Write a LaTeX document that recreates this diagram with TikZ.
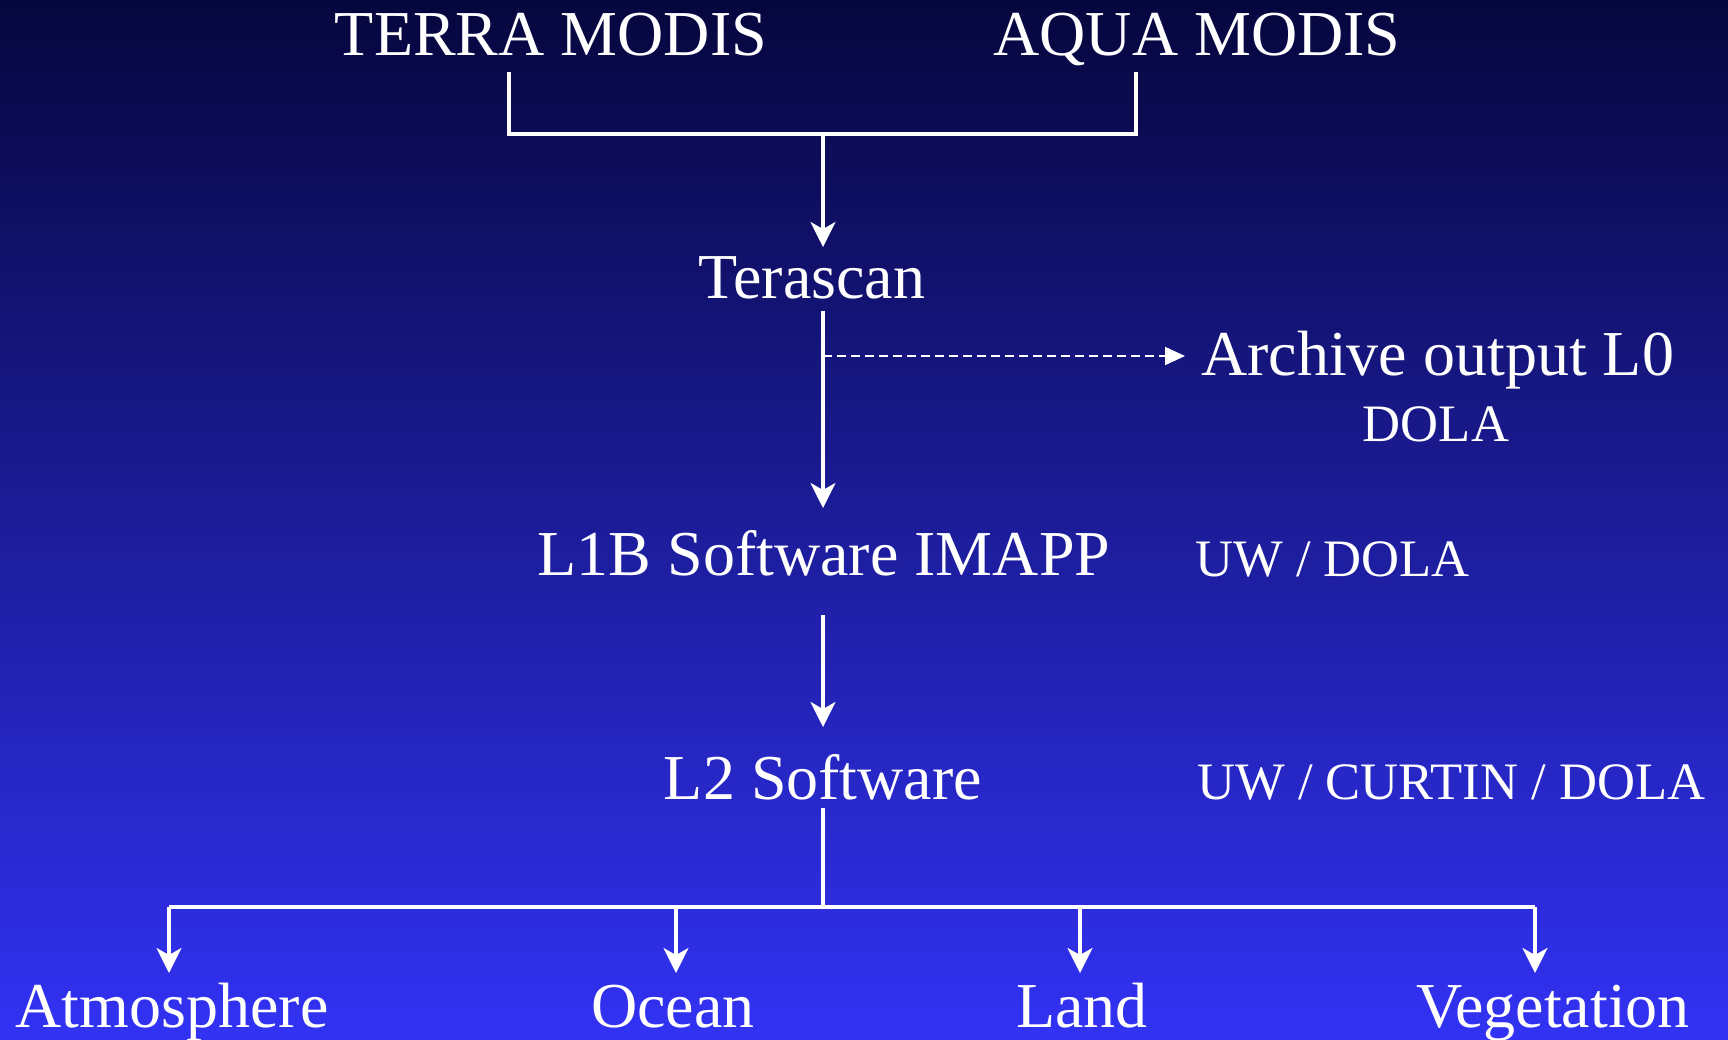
\documentclass[tikz,border=0pt]{standalone}
\usepackage{fontspec}
\setmainfont{Liberation Serif}
\usetikzlibrary{arrows.meta}
\definecolor{topc}{RGB}{6,6,62}
\definecolor{botc}{RGB}{50,50,244}
\tikzset{
  lbl/.style={text=white, inner sep=0pt, anchor=base, font=\fontsize{64}{64}\selectfont},
  sm/.style={lbl, font=\fontsize{52.6}{52.6}\selectfont},
  ln/.style={draw=white, line width=3.3pt},
  arr/.style={ln, -{Stealth[length=25pt,width=25pt,inset=7pt]}},
  darr/.style={draw=white, line width=2pt, dash pattern=on 9pt off 5pt, -{Triangle[length=20pt,width=18pt]}}
}
\begin{document}
\begin{tikzpicture}[x=1pt,y=-1pt]
\shade[top color=topc, bottom color=botc] (0,0) rectangle (1728,1039);
\useasboundingbox (0,0) rectangle (1728,1039);

% labels
\node[lbl] (terra) at (551,55) {TERRA MODIS};
\node[lbl] (aqua) at (1197,55) {AQUA MODIS};
\node[lbl] (tera) at (812,298) {Terascan};
\node[lbl, anchor=base west] (arch) at (1201,375) {Archive output L0};
\node[sm] (dola) at (1436,441) {DOLA};
\node[lbl] (l1b) at (824,575) {L1B Software IMAPP};
\node[sm, anchor=base west] (uw1) at (1195,576) {UW / DOLA};
\node[lbl] (l2) at (823,799) {L2 Software};
\node[sm, anchor=base west] (uw2) at (1197,799) {UW / CURTIN / DOLA};
\node[lbl] (atm) at (172,1027) {Atmosphere};
\node[lbl] (ocean) at (673,1027) {Ocean};
\node[lbl] (land) at (1082,1027) {Land};
\node[lbl] (veg) at (1553,1027) {Vegetation};

% coordinates
\coordinate (bl) at (509,72);
\coordinate (br) at (1136,72);
\coordinate (join) at (823,134);
\coordinate (t1) at (823,247);
\coordinate (s2) at (823,311);
\coordinate (t2) at (823,508);
\coordinate (dj) at (823,356);
\coordinate (dt) at (1185,356);
\coordinate (s3) at (823,615);
\coordinate (t3) at (823,727);
\coordinate (s4) at (823,808);
\coordinate (bj) at (823,907);
\coordinate (ba) at (169,907);
\coordinate (bo) at (676,907);
\coordinate (bn) at (1080,907);
\coordinate (bv) at (1535,907);
\coordinate (ta) at (169,973);
\coordinate (to) at (676,973);
\coordinate (tn) at (1080,973);
\coordinate (tv) at (1535,973);

% connectors
\draw[ln] (bl) |- (join) -| (br);
\draw[arr] (join) -- (t1);
\draw[arr] (s2) -- (t2);
\draw[darr] (dj) -- (dt);
\draw[arr] (s3) -- (t3);
\draw[ln] (s4) -- (bj);
\draw[ln] (ba) -- (bv);
\draw[arr] (ba) -- (ta);
\draw[arr] (bo) -- (to);
\draw[arr] (bn) -- (tn);
\draw[arr] (bv) -- (tv);
\end{tikzpicture}
\end{document}
